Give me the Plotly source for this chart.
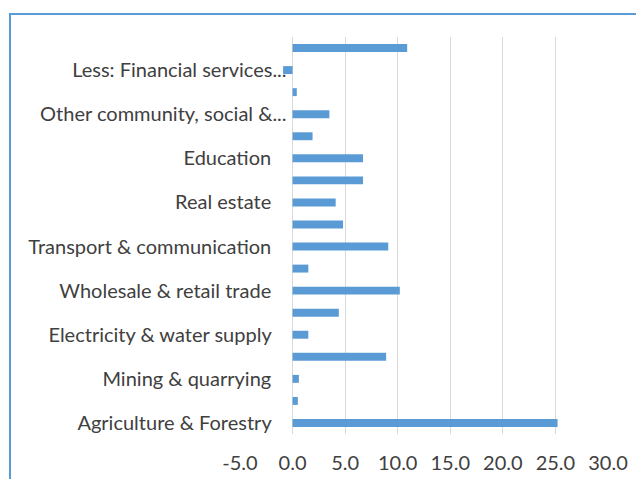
import plotly.graph_objects as go

# Categories, bottom to top
categories = [
    "Agriculture & Forestry",
    "Fishing",
    "Mining & quarrying",
    "Manufacturing",
    "Electricity & water supply",
    "Construction",
    "Wholesale & retail trade",
    "Hotels & restaurants",
    "Transport & communication",
    "Financial intermediation",
    "Real estate",
    "Public administration & defence",
    "Education",
    "Health & social work",
    "Other community, social & personal services",
    "Private households",
    "Less: Financial services indirectly measured",
    "Plus: Taxes on products",
]
values = [25.2, 0.5, 0.6, 8.9, 1.5, 4.4, 10.2, 1.5, 9.1, 4.8, 4.1, 6.7, 6.7, 1.9, 3.5, 0.4, -0.9, 10.9]

# Categories whose label is shown, and the shown text
tick_categories = [
    "Agriculture & Forestry",
    "Mining & quarrying",
    "Electricity & water supply",
    "Wholesale & retail trade",
    "Transport & communication",
    "Real estate",
    "Education",
    "Other community, social & personal services",
    "Less: Financial services indirectly measured",
]
tick_labels = [
    "Agriculture & Forestry",
    "Mining & quarrying",
    "Electricity & water supply",
    "Wholesale & retail trade",
    "Transport & communication",
    "Real estate",
    "Education",
    "Other community, social &...",
    "Less: Financial services...",
]
x_ticks = [-5, 0, 5, 10, 15, 20, 25, 30]
x_tick_labels = ["-5.0", "0.0", "5.0", "10.0", "15.0", "20.0", "25.0", "30.0"]

pad = "\u00a0\u00a0\u00a0"
shown = [t if t.endswith("...") else t + pad for t in tick_labels]

fig = go.Figure(
    go.Bar(
        x=values,
        y=categories,
        orientation="h",
        marker=dict(color="#5B9BD5", line=dict(width=0)),
        width=0.36,
    )
)

font = dict(family="Lato, Calibri, sans-serif", size=20, color="#404040")

PL, PT, PW, PH = 232, 29, 368, 397

fig.update_layout(
    width=644,
    height=479,
    margin=dict(l=PL, r=644 - PL - PW, t=PT, b=479 - PT - PH),
    paper_bgcolor="white",
    plot_bgcolor="white",
    showlegend=False,
    font=font,
    xaxis=dict(
        range=[-5, 30],
        tickvals=x_ticks,
        ticktext=x_tick_labels,
        showgrid=True,
        gridcolor="#D9D9D9",
        gridwidth=1,
        zeroline=False,
        showline=False,
        ticks="",
        ticklabelstandoff=15,
        automargin=False,
        tickfont=font,
    ),
    yaxis=dict(
        type="category",
        categoryorder="array",
        categoryarray=categories,
        range=[-0.5, len(categories) - 0.5],
        tickvals=tick_categories,
        ticktext=shown,
        showgrid=False,
        zeroline=False,
        showline=False,
        ticks="",
        anchor="free",
        position=5 / 35,
        ticklabelstandoff=6,
        automargin=False,
        tickfont=font,
    ),
    shapes=[
        dict(
            type="rect",
            xref="paper",
            yref="paper",
            x0=(2 - PL) / PW,
            x1=(660 - PL) / PW,
            y0=(PT + PH - 500) / PH,
            y1=(PT + PH - 6) / PH,
            line=dict(color="#5B9BD5", width=2),
            fillcolor="rgba(0,0,0,0)",
            layer="below",
        )
    ],
)

fig.write_html("out.html")
